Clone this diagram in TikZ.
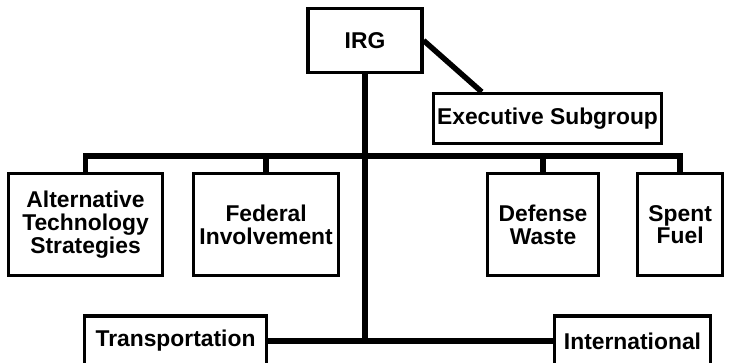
\documentclass[tikz,border=0pt]{standalone}
\usepackage{fontspec}
\setmainfont{Liberation Sans}
\usetikzlibrary{positioning}

\begin{document}
\begin{tikzpicture}
				[x=0.02cm, y=-0.02cm,
				unit/.style={rectangle, draw=black, line width=1.8pt, align=center, inner sep=0pt, font=\bfseries\fontsize{13}{12.9}\selectfont, minimum height=2.04cm},
				office/.style={unit, minimum height=1cm},
				link/.style={draw=black, line width=3.1pt}]
				\useasboundingbox (0,0) rectangle (729,362);
				\clip (0,0) rectangle (729,362);
				\node [office, minimum width=2.28cm, minimum height=1.28cm]  	(irg)  			at (365,40.5) 		{IRG};
				\node [office, minimum width=4.56cm]  	(executive) 	at (547.5,118.5) 	{Executive Subgroup};
				\node [unit, minimum width=3.08cm]  	(alternative)	at (85.5,224.5) 	{Alternative\\Technology\\Strategies};
				\node [unit, minimum width=2.9cm]  	(federal)		[right=0.56cm of alternative] 	{Federal\\Involvement};
				\node [unit, minimum width=2.22cm]  	(defense)		at (543,224.5) 		{Defense\\Waste};
				\node [unit, minimum width=1.7cm]  	(spent)			[right=0.72cm of defense] 	{Spent\\Fuel};
				\node [office, minimum width=3.64cm]  	(transport)		at (175.5,341) 		{Transportation};
				\node [office, minimum width=3.12cm]  	(international)	at (632.5,341) 		{International};
				\coordinate (bus) at (365,156);
				\draw [link] (irg.east) -- (executive.158);
				\draw [link] (alternative.north) |- (bus) -| (spent.north);
				\foreach \n in {federal, defense}
					\draw [link] (\n.north) -- (\n.north |- bus);
				\draw [link] (irg.south) -- (irg.south |- transport.east);
				\draw [link] (transport.east) -- (international.west);
			\end{tikzpicture}
\end{document}
